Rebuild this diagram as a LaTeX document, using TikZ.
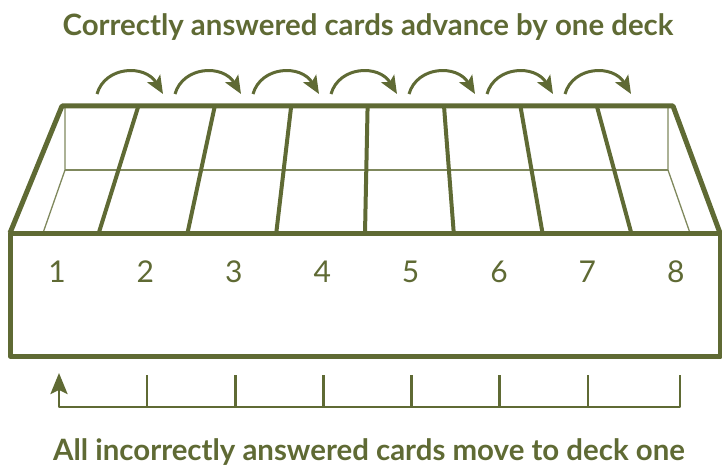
\documentclass[tikz,border=0pt]{standalone}
\usepackage{fontspec}
\setmainfont{Lato}
\usetikzlibrary{arrows.meta}
\definecolor{olive}{HTML}{5F6A34}
\newcommand{\capfont}{\fontsize{29.4}{32}\selectfont\bfseries}
\newcommand{\numfont}{\fontsize{30}{32}\selectfont}

\begin{document}
\begin{tikzpicture}[x=1pt,y=-1pt,line join=round,
  rim/.style={olive,line width=5pt},
  divider/.style={olive,line width=4pt},
  inner/.style={olive!80,line width=1.3pt},
  hop/.style={olive,line width=3pt,-{Stealth[length=18pt,width=15pt,inset=4pt]}},
  back/.style={olive,line width=2.8pt}]
\useasboundingbox (0,0) rectangle (722,468);
\node[text=olive,font=\capfont] (advance) at (368,27) {Correctly answered cards advance by one deck};
\node[text=olive,font=\capfont] (reset) at (369,452) {All incorrectly answered cards move to deck one};
% inner back wall
\draw[inner] (43,233) -- (65,170) -- (65,108);
\draw[inner] (65,170) -- (668,170);
\draw[inner] (690,233) -- (668,170) -- (668,108);
% dividers
\foreach \i in {1,...,7}
  \draw[divider] ({62+76.4*\i},106) -- ({10+88.75*\i},233);
% box
\draw[rim] (10,233) -- (62,106) -- (673,106) -- (720,233);
\draw[rim] (10,233) rectangle (720,356);
% deck numbers
\foreach \i in {1,...,8}
  \node[text=olive,font=\numfont] (deck\i) at ({57+88.4*(\i-1)},272) {\i};
% forward hops
\foreach \i in {0,...,6}
  \draw[hop] ({97+78*\i},94) .. controls ({105+78*\i},66) and ({145+78*\i},64) .. ({163+78*\i},94);
% way back to deck one
\coordinate (last) at (680,375);
\coordinate (home) at (59,373);
\foreach \i in {0,...,5}
  \draw[back] ({147+88.2*\i},375) -- ({147+88.2*\i},407);
\draw[back,-{Stealth[length=21pt,width=17pt,inset=4pt]}] (last) -- (last |- 0,407) -- (home |- 0,407) -- (home);
\end{tikzpicture}
\end{document}
